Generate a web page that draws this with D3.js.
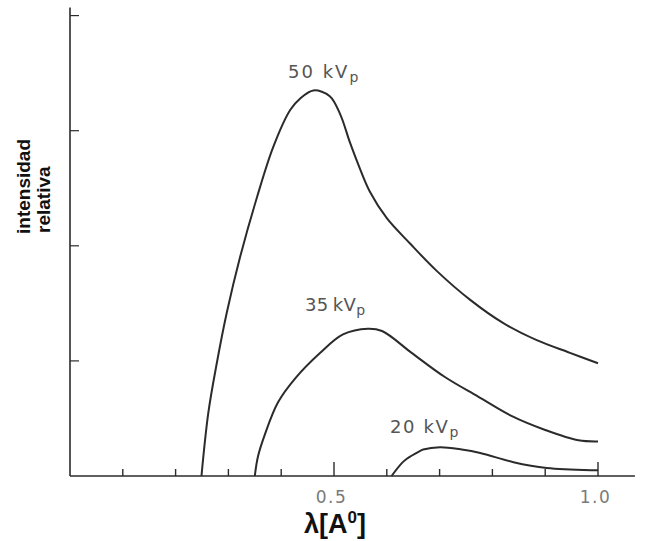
<!DOCTYPE html>
<html>
<head>
<meta charset="utf-8">
<script src="https://cdn.jsdelivr.net/npm/d3@7"></script>
<style>
  html, body { margin: 0; padding: 0; background: #fff; }
  svg { display: block; }
</style>
</head>
<body>
<svg id="chart" width="647" height="541"></svg>
<script>
// Continuous X-ray spectrum: relative intensity vs wavelength for three tube voltages
const wavelength50 = [0.249, 0.262, 0.278, 0.297, 0.322, 0.354, 0.385, 0.417, 0.436, 0.461, 0.492, 0.512, 0.530, 0.550, 0.568, 0.600, 0.644, 0.695, 0.758, 0.820, 0.884, 0.947, 1.000];
const intensity50  = [0, 0.55, 0.98, 1.42, 1.90, 2.42, 2.86, 3.18, 3.28, 3.35, 3.30, 3.14, 2.90, 2.66, 2.47, 2.24, 2.02, 1.78, 1.53, 1.33, 1.18, 1.07, 0.98];

const wavelength35 = [0.350, 0.356, 0.369, 0.394, 0.427, 0.474, 0.517, 0.564, 0.591, 0.647, 0.710, 0.773, 0.837, 0.900, 0.963, 1.000];
const intensity35  = [0, 0.17, 0.36, 0.64, 0.85, 1.07, 1.23, 1.28, 1.26, 1.07, 0.86, 0.69, 0.52, 0.40, 0.31, 0.30];

const wavelength20 = [0.609, 0.628, 0.638, 0.660, 0.669, 0.701, 0.742, 0.777, 0.840, 0.903, 0.988, 1.000];
const intensity20  = [0, 0.11, 0.15, 0.21, 0.23, 0.25, 0.23, 0.20, 0.12, 0.07, 0.05, 0.05];

const curveLabels = ["50 kV", "35 kV", "20 kV"];
const xMinorTicks = [0.1, 0.2, 0.3, 0.4, 0.6, 0.7, 0.8, 0.9];
const xMajorTicks = [0.5, 1.0];
const xTickLabels = ["0.5", "1.0"];
const yTicks = [1, 2, 3, 4];

const svg = d3.select("#chart");
const x = d3.scaleLinear().domain([0, 1]).range([70, 598]);
const y = d3.scaleLinear().domain([0, 4]).range([476, 15.6]);

const ink = "#2b2b2b";

// axes lines
svg.append("line")
  .attr("x1", x(0)).attr("x2", x(1.07))
  .attr("y1", y(0)).attr("y2", y(0))
  .attr("stroke", ink).attr("stroke-width", 1.6);
svg.append("line")
  .attr("x1", x(0)).attr("x2", x(0))
  .attr("y1", y(0)).attr("y2", y(4.07))
  .attr("stroke", ink).attr("stroke-width", 1.6);

// x ticks point up into the plot
svg.selectAll("line.xminor").data(xMinorTicks).join("line")
  .attr("class", "xminor")
  .attr("x1", d => x(d)).attr("x2", d => x(d))
  .attr("y1", y(0)).attr("y2", y(0) - 7)
  .attr("stroke", ink).attr("stroke-width", 1.4);
svg.selectAll("line.xmajor").data(xMajorTicks).join("line")
  .attr("class", "xmajor")
  .attr("x1", d => x(d)).attr("x2", d => x(d))
  .attr("y1", y(0)).attr("y2", y(0) - 14)
  .attr("stroke", ink).attr("stroke-width", 1.4);
svg.selectAll("text.xlab").data(xMajorTicks).join("text")
  .attr("class", "xlab")
  .attr("x", d => x(d) - 2.5).attr("y", 503)
  .attr("text-anchor", "middle")
  .attr("font-family", "DejaVu Sans, sans-serif")
  .attr("font-size", 17)
  .attr("letter-spacing", 1.5)
  .attr("fill", "#7a7a7a")
  .text((d, i) => xTickLabels[i]);

// y ticks point right
svg.selectAll("line.ytick").data(yTicks).join("line")
  .attr("class", "ytick")
  .attr("x1", x(0)).attr("x2", x(0) + 9)
  .attr("y1", d => y(d)).attr("y2", d => y(d))
  .attr("stroke", ink).attr("stroke-width", 1.2);

// spectra
const series = [
  { lam: wavelength50, val: intensity50 },
  { lam: wavelength35, val: intensity35 },
  { lam: wavelength20, val: intensity20 }
];
const line = d3.line()
  .x(d => x(d[0])).y(d => y(d[1]))
  .curve(d3.curveCatmullRom.alpha(0.5));
svg.selectAll("path.spec").data(series).join("path")
  .attr("class", "spec")
  .attr("d", s => line(s.lam.map((l, i) => [l, s.val[i]])))
  .attr("fill", "none")
  .attr("stroke", ink)
  .attr("stroke-width", 2);

// curve labels with subscript p
const labelPos = [
  { x: 288, y: 78, ls: 2 },
  { x: 305, y: 311, ls: 0.4 },
  { x: 390, y: 433, ls: 1.6 }
];
curveLabels.forEach((t, i) => {
  const p = labelPos[i];
  const txt = svg.append("text")
    .attr("x", p.x).attr("y", p.y)
    .attr("font-family", "DejaVu Sans, sans-serif")
    .attr("font-size", 18)
    .attr("letter-spacing", p.ls)
    .attr("fill", "#555");
  txt.append("tspan").text(i === 1 ? t.replace(" ", "\u2009") : t);
  txt.append("tspan").attr("dy", 4).attr("font-size", 14).text("p");
});

// y axis title, two lines reading upward
const yTitle = ["intensidad", "relativa"];
const yTitlePos = [{ x: 30, y: 234 }, { x: 50, y: 233 }];
yTitle.forEach((t, i) => {
  svg.append("text")
    .attr("transform", `translate(${yTitlePos[i].x},${yTitlePos[i].y}) rotate(-90)`)
    .attr("font-family", "Liberation Sans, Arial, sans-serif")
    .attr("font-weight", "bold").attr("font-size", 19).attr("fill", "#111")
    .text(t);
});

// x axis title
const xt = svg.append("text")
  .attr("x", 304).attr("y", 533)
  .attr("font-family", "Liberation Sans, Arial, sans-serif")
  .attr("font-weight", "bold")
  .attr("font-size", 27)
  .attr("fill", "#111");
xt.append("tspan").text("λ[A");
xt.append("tspan").attr("dy", -10).attr("font-size", 17).text("0");
xt.append("tspan").attr("dy", 10).text("]");
</script>
</body>
</html>
